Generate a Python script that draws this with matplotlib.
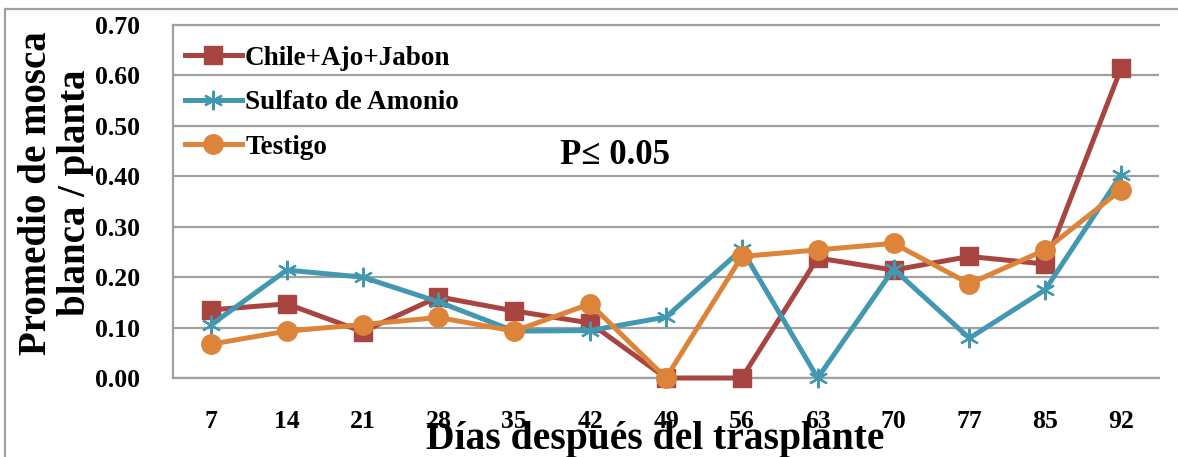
import matplotlib.pyplot as plt
from matplotlib.patches import Rectangle

plt.rcParams['font.family'] = ['Liberation Serif', 'DejaVu Serif']
plt.rcParams['font.weight'] = 'bold'

# Datos: promedio de mosca blanca por planta
dias = ['7', '14', '21', '28', '35', '42', '49', '56', '63', '70', '77', '85', '92']
chile_ajo_jabon = [0.135, 0.147, 0.092, 0.161, 0.133, 0.109, 0.0, 0.0, 0.238, 0.214, 0.241, 0.226, 0.614]
sulfato_amonio = [0.105, 0.214, 0.200, 0.151, 0.093, 0.094, 0.121, 0.255, 0.0, 0.216, 0.079, 0.175, 0.403]
testigo = [0.067, 0.093, 0.106, 0.120, 0.093, 0.147, 0.0, 0.241, 0.254, 0.267, 0.187, 0.254, 0.373]
yticks = [0.0, 0.1, 0.2, 0.3, 0.4, 0.5, 0.6, 0.7]

rojo = '#A84541'
azul = '#4198B0'
naranja = '#DC8439'
gris = '#A0A0A0'

fig = plt.figure(figsize=(11.78, 4.57), dpi=100)
ax = fig.add_axes([173 / 1178, 1 - 378 / 457, (1159 - 173) / 1178, (378 - 25) / 457])

x = list(range(len(dias)))
ax.plot(x, chile_ajo_jabon, color=rojo, lw=3.6, marker='s', ms=13,
        label='Chile+Ajo+Jabon', clip_on=False, zorder=3)
ax.plot(x, sulfato_amonio, color=azul, lw=3.6, marker=(6, 2, 0), ms=14, mew=1.6,
        label='Sulfato de Amonio', clip_on=False, zorder=3)
ax.plot(x, testigo, color=naranja, lw=3.6, marker='o', ms=14,
        label='Testigo', clip_on=False, zorder=4)

ax.set_xlim(-0.5, len(dias) - 0.5)
ax.set_ylim(0, 0.7)
ax.set_xticks(x)
ax.set_xticklabels(dias)
ax.set_yticks(yticks)
ax.set_yticklabels([f'{v:.2f}' for v in yticks])
ax.tick_params(axis='both', length=0, labelsize=18.5)
ax.tick_params(axis='y', pad=24)
ax.tick_params(axis='x', pad=23)

ax.grid(axis='y', color=gris, lw=1.6)
ax.set_axisbelow(True)
for lado in ['top', 'bottom', 'left']:
    ax.spines[lado].set_color(gris)
    ax.spines[lado].set_linewidth(1.6)
ax.spines['right'].set_visible(False)

ax.legend(loc='upper left', bbox_to_anchor=(-0.003, 1 - 6 / 353), frameon=False,
          fontsize=19.5, handlelength=2.1, handletextpad=0.12,
          labelspacing=0.72, borderaxespad=0.25, borderpad=0.3)

ax.text(0.448, 0.63, 'P≤ 0.05', transform=ax.transAxes, fontsize=25,
        fontweight='bold', ha='center', va='center')

fig.text(56 / 1178, 1 - 193 / 457, 'Promedio de mosca\nblanca / planta',
         rotation=90, ha='center', va='center', fontsize=28, fontweight='bold',
         linespacing=1.08)
fig.text(655 / 1178, 1 - 440 / 457, 'Días después del trasplante',
         ha='center', va='center', fontsize=28.5, fontweight='bold')

# Marco exterior del gráfico
fig.patches.append(Rectangle((5 / 1178, -0.1), 1.2, 1.1 - 9.5 / 457,
                             transform=fig.transFigure, fill=False,
                             edgecolor=gris, lw=1.6))

fig.savefig('out.png', dpi=100)
